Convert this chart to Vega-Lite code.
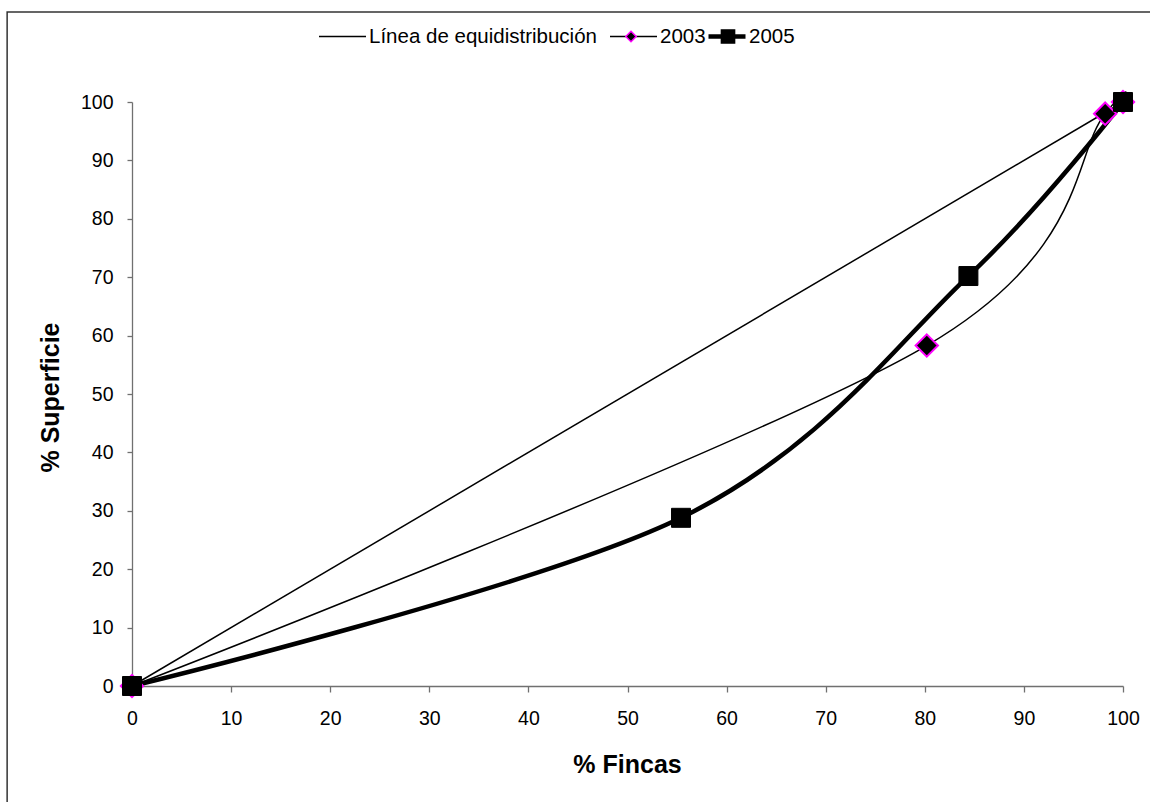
{
  "$schema": "https://vega.github.io/schema/vega-lite/v6.json",
  "width": 991,
  "height": 584,
  "autosize": "none",
  "padding": {"left": 132, "top": 102, "right": 27, "bottom": 116},
  "background": "white",
  "config": {
    "view": {"stroke": null},
    "font": "Liberation Sans"
  },
  "data": {
    "values": [
      {"serie": "Línea de equidistribución", "fincas": 0, "superficie": 0},
      {"serie": "Línea de equidistribución", "fincas": 100, "superficie": 100},
      {"serie": "2003", "fincas": 0, "superficie": 0},
      {"serie": "2003", "fincas": 80.2, "superficie": 58.3},
      {"serie": "2003", "fincas": 98.2, "superficie": 98.0},
      {"serie": "2003", "fincas": 100, "superficie": 100},
      {"serie": "2005", "fincas": 0, "superficie": 0},
      {"serie": "2005", "fincas": 55.4, "superficie": 28.8},
      {"serie": "2005", "fincas": 84.4, "superficie": 70.2},
      {"serie": "2005", "fincas": 100, "superficie": 100}
    ]
  },
  "layer": [
    {
      "data": {"values": [{"frame": "borde"}]},
      "mark": {"type": "rect", "fill": null, "stroke": "#333333", "strokeWidth": 1.5, "clip": false},
      "encoding": {
        "x": {"datum": -12.6, "type": "quantitative"},
        "x2": {"datum": 130},
        "y": {"datum": 115.4, "type": "quantitative"},
        "y2": {"datum": -40}
      }
    },
    {
      "mark": {"type": "line", "interpolate": "cardinal", "tension": 0},
      "encoding": {
        "x": {
          "field": "fincas", "type": "quantitative",
          "scale": {"domain": [0, 100], "nice": false, "zero": false},
          "axis": {
            "values": [0, 10, 20, 30, 40, 50, 60, 70, 80, 90, 100],
            "grid": false,
            "domainColor": "#707070", "domainWidth": 1.3,
            "tickColor": "#707070", "tickWidth": 1.3, "tickSize": 6,
            "labelFontSize": 19.5, "labelColor": "black", "labelPadding": 17,
            "labelFlush": false, "labelOverlap": false,
            "title": "% Fincas", "titleFontSize": 25, "titleFontWeight": "bold", "titleColor": "black",
            "titleX": 495, "titleY": 86, "titleBaseline": "alphabetic", "titleAlign": "center", "titleAnchor": null
          }
        },
        "y": {
          "field": "superficie", "type": "quantitative",
          "scale": {"domain": [0, 100], "nice": false, "zero": false},
          "axis": {
            "values": [0, 10, 20, 30, 40, 50, 60, 70, 80, 90, 100],
            "grid": false,
            "domainColor": "#707070", "domainWidth": 1.3,
            "tickColor": "#707070", "tickWidth": 1.3, "tickSize": 5,
            "labelFontSize": 19.5, "labelColor": "black", "labelPadding": 14,
            "labelFlush": false, "labelOverlap": false,
            "title": "% Superficie", "titleFontSize": 25, "titleFontWeight": "bold", "titleColor": "black",
            "titleX": -82, "titleY": 295, "titleAngle": -90, "titleBaseline": "middle", "titleAlign": "center", "titleAnchor": null
          }
        },
        "color": {
          "field": "serie", "type": "nominal",
          "scale": {"domain": ["Línea de equidistribución", "2003", "2005"], "range": ["black", "black", "black"]},
          "legend": {
            "orient": "none", "legendX": 186, "legendY": -90, "direction": "horizontal", "title": null,
            "values": ["Línea de equidistribución", "2003"],
            "symbolType": "stroke", "symbolSize": 2209, "symbolStrokeWidth": 1.5,
            "labelFontSize": 20.5, "labelColor": "black",
            "labelOffset": 2, "columnPadding": 10, "padding": 0, "labelLimit": 400
          }
        },
        "strokeWidth": {
          "field": "serie", "type": "ordinal",
          "scale": {"type": "ordinal", "domain": ["Línea de equidistribución", "2003", "2005", "_a"], "range": [1.5, 1.5, 4.5, 1]},
          "legend": {
            "orient": "none", "legendX": 574, "legendY": -86.5, "direction": "horizontal", "title": null,
            "values": ["2005"],
            "symbolType": "stroke", "symbolSize": 1369, "symbolStrokeColor": "black",
            "labelFontSize": 20.5, "labelColor": "black",
            "labelOffset": 1, "columnPadding": 0, "padding": 0, "labelLimit": 400
          }
        }
      }
    },
    {
      "transform": [{"filter": "datum.serie === '2003'"}],
      "mark": {"type": "point", "filled": true, "fill": "black", "size": 10300, "strokeWidth": 2, "opacity": 1},
      "encoding": {
        "x": {"field": "fincas", "type": "quantitative"},
        "y": {"field": "superficie", "type": "quantitative"},
        "shape": {
          "field": "serie", "type": "nominal",
          "scale": {
            "domain": ["Línea de equidistribución", "2003", "2005", "_b"],
            "range": ["M0,0", "M0,-0.22L0.22,0L0,0.22L-0.22,0Z", "M-0.28,-0.28H0.28V0.28H-0.28Z", "M0,0"]
          },
          "legend": {
            "orient": "none", "legendX": 474.5, "legendY": -90, "direction": "horizontal", "title": null,
            "values": ["2003", "2005"],
            "symbolSize": 2209, "symbolStrokeWidth": 1.5, "labelFontSize": 20.5, "labelExpr": "''",
            "labelOffset": 2, "columnPadding": 46, "padding": 0, "labelLimit": 400
          }
        },
        "stroke": {
          "field": "serie", "type": "nominal",
          "scale": {
            "domain": ["Línea de equidistribución", "2003", "2005", "_b"],
            "range": ["transparent", "#ff00ff", "black", "transparent"]
          },
          "legend": {
            "orient": "none", "legendX": 474.5, "legendY": -90, "direction": "horizontal", "title": null,
            "values": ["2003", "2005"],
            "symbolSize": 2209, "symbolStrokeWidth": 1.5, "labelFontSize": 20.5, "labelExpr": "''",
            "labelOffset": 2, "columnPadding": 46, "padding": 0, "labelLimit": 400
          }
        }
      }
    },
    {
      "transform": [{"filter": "datum.serie === '2005'"}],
      "mark": {"type": "point", "filled": true, "fill": "black", "size": 4600, "strokeWidth": 1, "opacity": 1},
      "encoding": {
        "x": {"field": "fincas", "type": "quantitative"},
        "y": {"field": "superficie", "type": "quantitative"},
        "shape": {"field": "serie", "type": "nominal"},
        "stroke": {"field": "serie", "type": "nominal"}
      }
    }
  ]
}
